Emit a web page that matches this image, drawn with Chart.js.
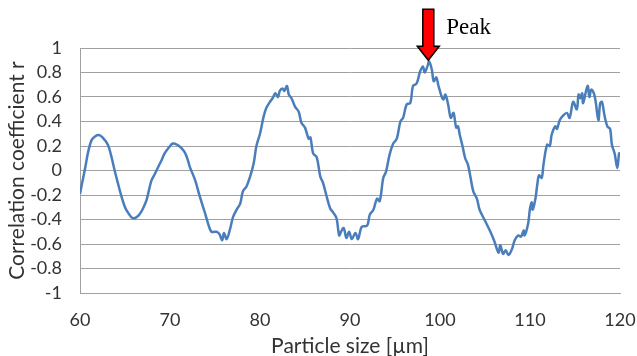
<!DOCTYPE html>
<html>
<head>
<meta charset="utf-8">
<script src="https://cdn.jsdelivr.net/npm/chart.js@4/dist/chart.umd.min.js"></script>
<style>
  html, body { margin: 0; padding: 0; background: #ffffff; }
  #wrap { width: 637px; height: 356px; }
</style>
</head>
<body>
<div id="wrap"><canvas id="c" width="637" height="356"></canvas></div>
<script>
// Particle size [µm]
const sizes = [
  60.0, 60.3, 60.6, 60.9, 61.3, 61.7, 62.1, 62.5, 63.1, 63.5,
  63.85, 64.2, 64.6, 65.0, 65.3, 65.7, 66.0, 66.3, 66.6, 67.0,
  67.4, 67.9, 68.3, 68.7, 69.1, 69.4, 69.9, 70.3, 70.8, 71.3,
  71.7, 72.0, 72.2, 72.8, 73.3, 73.9, 74.3, 74.6, 75.0, 75.2,
  75.5, 75.8, 76.0, 76.3, 76.7, 77.0, 77.4, 77.8, 78.1, 78.5,
  78.9, 79.3, 79.6, 80.0, 80.4, 80.7, 81.1, 81.4, 81.7, 82.0,
  82.2, 82.5, 82.7, 83.0, 83.2, 83.5, 83.9, 84.3, 84.6, 85.0,
  85.4, 85.6, 85.9, 86.3, 86.7, 87.0, 87.4, 87.8, 88.1, 88.5,
  88.8, 89.0, 89.3, 89.6, 89.9, 90.2, 90.6, 90.9, 91.3, 91.9,
  92.2, 92.6, 93.0, 93.3, 93.7, 94.0, 94.4, 94.8, 95.2, 95.6,
  95.9, 96.3, 96.7, 97.0, 97.4, 97.8, 98.1, 98.3, 98.6, 98.8,
  99.1, 99.3, 99.6, 99.8, 100.2, 100.4, 100.6, 100.9, 101.2, 101.5,
  101.8, 102.0, 102.2, 102.5, 102.8, 103.1, 103.4, 103.7, 104.1, 104.4,
  105.0, 105.6, 106.0, 106.5, 106.7, 107.0, 107.3, 107.6, 108.0, 108.3,
  108.7, 109.0, 109.3, 109.4, 109.8, 110.0, 110.2, 110.3, 110.6, 110.8,
  111.0, 111.3, 111.5, 111.9, 112.2, 112.4, 112.8, 113.0, 113.3, 113.7,
  114.1, 114.4, 114.8, 115.2, 115.4, 115.6, 115.8, 115.9, 116.4, 116.6,
  116.8, 117.1, 117.3, 117.6, 117.8, 118.0, 118.3, 118.6, 118.9, 119.1,
  119.4, 119.7, 119.9, 120.0
];
// Correlation coefficient r
const corr = [
  -0.19, -0.08, 0.03, 0.15, 0.25, 0.28, 0.29, 0.27, 0.21, 0.11,
  0.00, -0.10, -0.21, -0.30, -0.34, -0.38, -0.39, -0.38, -0.36, -0.31,
  -0.24, -0.09, -0.03, 0.03, 0.09, 0.14, 0.19, 0.22, 0.21, 0.18,
  0.14, 0.08, 0.03, -0.08, -0.21, -0.35, -0.45, -0.50, -0.50, -0.50,
  -0.52, -0.57, -0.51, -0.56, -0.47, -0.38, -0.32, -0.27, -0.17, -0.13,
  -0.05, 0.06, 0.20, 0.30, 0.44, 0.51, 0.56, 0.59, 0.63, 0.60,
  0.65, 0.67, 0.65, 0.69, 0.62, 0.59, 0.52, 0.48, 0.39, 0.35,
  0.26, 0.27, 0.14, 0.11, -0.05, -0.10, -0.21, -0.31, -0.34, -0.39,
  -0.53, -0.50, -0.47, -0.55, -0.50, -0.56, -0.51, -0.56, -0.46, -0.45,
  -0.36, -0.32, -0.23, -0.25, -0.06, -0.01, 0.13, 0.22, 0.26, 0.40,
  0.43, 0.54, 0.55, 0.69, 0.71, 0.81, 0.85, 0.80, 0.85, 0.89,
  0.82, 0.73, 0.76, 0.70, 0.60, 0.58, 0.62, 0.54, 0.43, 0.47,
  0.35, 0.36, 0.29, 0.20, 0.10, 0.05, -0.06, -0.17, -0.23, -0.32,
  -0.41, -0.50, -0.57, -0.67, -0.61, -0.68, -0.65, -0.69, -0.64, -0.57,
  -0.53, -0.54, -0.49, -0.53, -0.43, -0.31, -0.26, -0.32, -0.23, -0.12,
  -0.04, -0.06, 0.05, 0.21, 0.20, 0.29, 0.36, 0.34, 0.41, 0.45,
  0.47, 0.43, 0.56, 0.50, 0.62, 0.59, 0.63, 0.55, 0.69, 0.60,
  0.66, 0.63, 0.56, 0.41, 0.55, 0.56, 0.44, 0.36, 0.34, 0.21,
  0.14, 0.02, 0.14, 0.13
];
// Annotation ("Peak" arrow)
const peakLabels = ["Peak"];
const peakSizes = [98.7];
const peakValues = [0.9];

const points = sizes.map((s, i) => ({ x: s, y: corr[i] }));

const peakPlugin = {
  id: 'peakArrow',
  afterDatasetsDraw(chart) {
    const { ctx, scales } = chart;
    peakLabels.forEach((lab, i) => {
      const tx = scales.x.getPixelForValue(peakSizes[i]);
      const ty = scales.y.getPixelForValue(peakValues[i]);
      const shaftHalf = 5.5, headHalf = 11, headLen = 14, shaftLen = 37;
      ctx.save();
      ctx.beginPath();
      ctx.moveTo(tx, ty);
      ctx.lineTo(tx - headHalf, ty - headLen);
      ctx.lineTo(tx - shaftHalf, ty - headLen);
      ctx.lineTo(tx - shaftHalf, ty - headLen - shaftLen);
      ctx.lineTo(tx + shaftHalf, ty - headLen - shaftLen);
      ctx.lineTo(tx + shaftHalf, ty - headLen);
      ctx.lineTo(tx + headHalf, ty - headLen);
      ctx.closePath();
      ctx.fillStyle = '#ff0000';
      ctx.fill();
      ctx.lineWidth = 1.5;
      ctx.strokeStyle = '#000000';
      ctx.lineJoin = 'miter';
      ctx.stroke();
      ctx.fillStyle = '#000000';
      ctx.font = '23px "Liberation Serif", "Times New Roman", serif';
      ctx.textAlign = 'left';
      ctx.textBaseline = 'alphabetic';
      ctx.fillText(lab, tx + 18, ty - 26);
      ctx.restore();
    });
  }
};

const tickFont = { family: 'Lato, "Open Sans", sans-serif', size: 18 };
const titleFont = { family: 'Lato, "Open Sans", sans-serif', size: 21 };

new Chart(document.getElementById('c'), {
  type: 'line',
  data: {
    datasets: [{
      data: points,
      borderColor: '#4a7ebb',
      borderWidth: 2.5,
      pointRadius: 0,
      tension: 0.35,
      fill: false
    }]
  },
  options: {
    responsive: false,
    animation: false,
    devicePixelRatio: 1,
    layout: { padding: { top: 48, right: 17, bottom: 0, left: 0 } },
    plugins: { legend: { display: false }, tooltip: { enabled: false } },
    scales: {
      x: {
        type: 'linear',
        min: 60, max: 120,
        grid: { display: false },
        border: { display: true, color: '#a0a0a0', width: 1 },
        ticks: { stepSize: 10, font: tickFont, color: '#333333', padding: 8, maxRotation: 0, autoSkip: false },
        title: { display: true, text: 'Particle size [µm]', font: titleFont, color: '#333333', padding: { top: 0, bottom: -3 } },
        afterFit(s) { s.height = 63; s.paddingRight = 0; s.paddingLeft = 0; }
      },
      y: {
        min: -1, max: 1,
        grid: { color: '#a0a0a0', lineWidth: 1, drawTicks: false },
        border: { display: true, color: '#a0a0a0', width: 1 },
        ticks: {
          stepSize: 0.2, font: tickFont, color: '#333333', padding: 18, autoSkip: false,
          callback: v => String(Number(v.toFixed(1)))
        },
        title: { display: true, text: 'Correlation coefficient r', font: titleFont, color: '#333333', padding: { top: 5, bottom: 0 } },
        afterFit(s) { s.width = 80; }
      }
    }
  },
  plugins: [peakPlugin]
});
</script>
</body>
</html>
